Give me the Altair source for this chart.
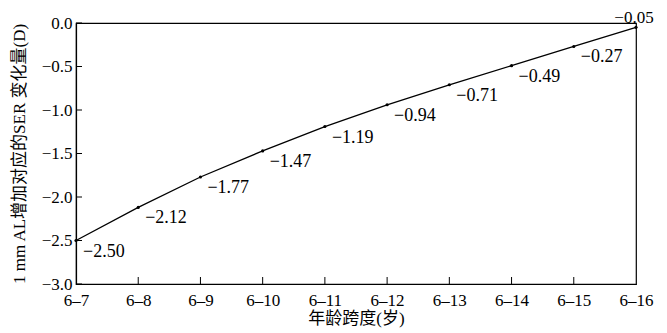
import altair as alt
import pandas as pd

ages = ["6–7", "6–8", "6–9", "6–10", "6–11", "6–12", "6–13", "6–14", "6–15", "6–16"]
ser_change = [-2.50, -2.12, -1.77, -1.47, -1.19, -0.94, -0.71, -0.49, -0.27, -0.05]
y_ticks = [0.0, -0.5, -1.0, -1.5, -2.0, -2.5, -3.0]

df = pd.DataFrame({"age": ages, "v": ser_change})
ticks_df = pd.DataFrame({"t": y_ticks})
xticks_df = pd.DataFrame({"age": ages[1:-1]})

FONT = "Liberation Serif, Noto Sans CJK SC"

x_scale = alt.Scale(type="point", domain=ages, padding=0)
x_enc = alt.X("age:N", sort=ages, scale=x_scale,
              axis=alt.Axis(title="年龄跨度(岁)", labelAngle=0, ticks=False,
                            labelPadding=8, titlePadding=2))
y_scale = alt.Scale(domain=[-3.0, 0.0], nice=False, zero=False)
y_enc = alt.Y("v:Q", scale=y_scale,
              axis=alt.Axis(title="1 mm AL增加对应的SER 变化量(D)", values=y_ticks,
                            format=".1f", ticks=False, labelPadding=4, titlePadding=13))

line = alt.Chart(df).mark_line(color="black", strokeWidth=1.3).encode(x=x_enc, y=y_enc)
pts = alt.Chart(df).mark_point(filled=True, color="black", size=10, opacity=1).encode(x=x_enc, y=y_enc)

labels = alt.Chart(df).transform_filter(alt.datum.age != "6–16").mark_text(
    align="left", baseline="middle", dx=7, dy=11, fontSize=18, font=FONT, color="black"
).encode(x=x_enc, y=y_enc, text=alt.Text("v:Q", format=".2f"))

last_label = alt.Chart(df).transform_filter(alt.datum.age == "6–16").mark_text(
    align="center", baseline="alphabetic", dx=-2, dy=-4, fontSize=17, font=FONT, color="black"
).encode(x=x_enc, y=y_enc, text=alt.Text("v:Q", format=".2f"))

ytick_marks = alt.Chart(ticks_df).mark_rule(color="black", strokeWidth=1).encode(
    y=alt.Y("t:Q", scale=y_scale), x=alt.value(0), x2=alt.value(6))

xtick_marks = alt.Chart(xticks_df).mark_rule(color="black", strokeWidth=1).encode(
    x=alt.X("age:N", sort=ages, scale=x_scale),
    y=alt.value(261), y2=alt.value(254))

chart = alt.layer(line, pts, labels, last_label, ytick_marks, xtick_marks).properties(
    width=560, height=261,
    autosize=alt.AutoSizeParams(type="none"),
    padding={"left": 68, "top": 15, "right": 20, "bottom": 48}
).configure_view(stroke="black", strokeWidth=1.2).configure_axis(
    labelFont=FONT, titleFont=FONT, labelFontSize=17, titleFontSize=17,
    labelColor="black", titleColor="black", titleFontWeight="normal",
    domainColor="black", domainWidth=1.2, grid=False
)

chart.save("out.html", embed_options={"renderer": "svg", "actions": False})
